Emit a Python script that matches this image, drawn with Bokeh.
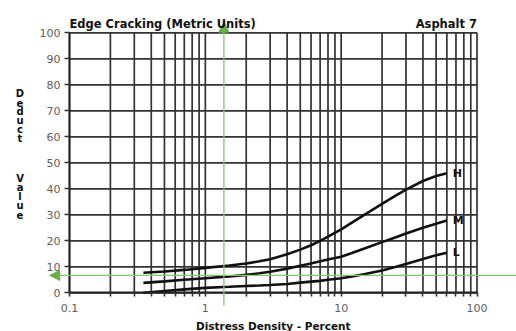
from bokeh.plotting import figure
from bokeh.models import Range1d, FixedTicker, Label, Arrow, NormalHead, LogAxis, LinearAxis
from bokeh.core.properties import value
from bokeh.embed import file_html
from bokeh.resources import INLINE

# Distress density (percent) at which the deduct curves were read
density = [0.35, 0.5, 0.7, 1, 1.5, 2, 2.5, 3, 4, 5, 6, 7, 8, 10, 12, 15, 20, 25, 30, 40, 50, 60]

# Deduct values per severity level
high = [7.7, 8.2, 8.8, 9.6, 10.5, 11.3, 12.1, 12.9, 14.8, 16.6, 18.3, 20.0, 21.6, 24.4,
        27.0, 30.2, 34.2, 37.3, 39.7, 43.0, 44.9, 46.0]
medium = [3.8, 4.4, 5.0, 5.6, 6.3, 6.9, 7.5, 8.1, 9.3, 10.4, 11.3, 12.1, 12.8, 13.9,
          15.3, 17.1, 19.5, 21.3, 22.8, 25.0, 26.6, 27.8]
low = [0.0, 0.7, 1.3, 1.9, 2.3, 2.6, 2.8, 3.0, 3.4, 3.9, 4.3, 4.6, 5.0, 5.6,
       6.3, 7.2, 8.6, 9.9, 11.1, 13.0, 14.4, 15.4]
severity_names = ["H", "M", "L"]

x_ticks = [0.1, 1, 10, 100]
x_tick_labels = ["0.1", "1", "10", "100"]
x_minor = [m * 10 ** e for e in (-1, 0, 1) for m in range(2, 10)]
y_ticks = list(range(0, 101, 10))

# Reading lines: density 1.37 % gives a deduct value of 6.7
read_density = 1.37
read_deduct = 6.7

FONT = "DejaVu Sans"
GRID = "#333333"
INK = "#111111"
GREEN_LINE = "#8cc46e"
GREEN_HEAD = "#6aae45"

W, H = 516, 331
# chart box inside the canvas (pixels from left / top)
BOX_L, BOX_R, BOX_T, BOX_B = 69.0, 476.5, 32.3, 292.3
px_decade = (BOX_R - BOX_L) / 3.0
px_unit = (BOX_B - BOX_T) / 100.0
x_lo = 10 ** (-1 - BOX_L / px_decade)
x_hi = 10 ** (2 + (W - BOX_R) / px_decade)
y_lo = -(H - BOX_B) / px_unit
y_hi = 100 + BOX_T / px_unit

p = figure(width=W, height=H, x_axis_type="log", x_axis_location=None, y_axis_location=None,
           x_range=Range1d(x_lo, x_hi), y_range=Range1d(y_lo, y_hi),
           title_location=None, output_backend="svg", toolbar_location=None,
           min_border=0)
p.background_fill_color = "white"
p.border_fill_color = "white"
p.outline_line_color = None
for g in p.grid:
    g.visible = False

# Grid lines over the 0.1-100 / 0-100 box
vx = [0.1] + x_minor + [1, 10, 100]
p.segment(x0=vx, y0=[0] * len(vx), x1=vx, y1=[100] * len(vx),
          line_color=GRID, line_width=1.7)
p.segment(x0=[0.1] * len(y_ticks), y0=y_ticks, x1=[100] * len(y_ticks), y1=y_ticks,
          line_color=GRID, line_width=1.7)

# Axes pinned to the box edges
xaxis = LogAxis(fixed_location=0, bounds=(0.1, 100),
                ticker=FixedTicker(ticks=x_ticks, minor_ticks=x_minor))
xaxis.major_label_overrides = {t: s for t, s in zip(x_ticks, x_tick_labels)}
yaxis = LinearAxis(fixed_location=0.1, bounds=(0, 100), ticker=FixedTicker(ticks=y_ticks))
for ax in (xaxis, yaxis):
    ax.axis_line_color = "#222222"
    ax.axis_line_width = 1.8
    ax.major_tick_line_color = "#333333"
    ax.major_tick_line_width = 1.6
    ax.minor_tick_line_color = "#333333"
    ax.minor_tick_line_width = 1.6
    ax.major_tick_in = 0
    ax.minor_tick_in = 0
    ax.major_label_text_font = FONT
    ax.major_label_text_font_size = "11px"
    ax.major_label_text_color = "#606060"
xaxis.major_tick_out = 4
xaxis.minor_tick_out = 4
xaxis.major_label_standoff = 7
yaxis.major_tick_out = 5
yaxis.minor_tick_out = 0
yaxis.major_label_standoff = 4
p.add_layout(xaxis, "below")
p.add_layout(yaxis, "left")

# Deduct curves
for vals, name in zip([high, medium, low], severity_names):
    p.line(density, vals, line_color=INK, line_width=2.6)
    p.text(x=[density[-1]], y=[vals[-1]], text=[name], x_offset=6,
           text_font=value(FONT), text_font_style="bold", text_font_size="11px",
           text_baseline="middle", text_align="left", text_color=INK)

# Reading arrows
p.add_layout(Arrow(x_start=read_density, y_start=-4.9, x_end=read_density, y_end=104.1,
                   line_color=GREEN_LINE, line_width=1.3,
                   end=NormalHead(size=10, fill_color=GREEN_HEAD, line_color=GREEN_HEAD)))
p.add_layout(Arrow(x_start=x_hi * 2, y_start=read_deduct, x_end=0.0716, y_end=read_deduct,
                   line_color=GREEN_LINE, line_width=1.3,
                   end=NormalHead(size=10, fill_color=GREEN_HEAD, line_color=GREEN_HEAD)))


def text_at(x, y_top, txt, size, align="left", baseline="alphabetic"):
    # x from the left edge, y from the top edge of the canvas
    p.add_layout(Label(x=x, y=H - y_top, x_units="screen", y_units="screen",
                       text=txt, text_font=FONT, text_font_style="bold",
                       text_font_size=size, text_align=align,
                       text_baseline=baseline, text_color=INK))


# Titles
text_at(BOX_L, 23, "Edge Cracking (Metric Units)", "11.5px")
text_at(BOX_R, 23, "Asphalt 7", "11.5px", align="right")

# Axis titles
text_at((BOX_L + BOX_R) / 2, 325, "Distress Density - Percent", "10.5px",
        align="center", baseline="middle")
for word, first in (("Deduct", 93.3), ("Value", 178.3)):
    for i, ch in enumerate(word):
        text_at(19.5, first + 9 * i, ch, "10px", align="center", baseline="middle")

open("out.html", "w").write(file_html(p, INLINE))
